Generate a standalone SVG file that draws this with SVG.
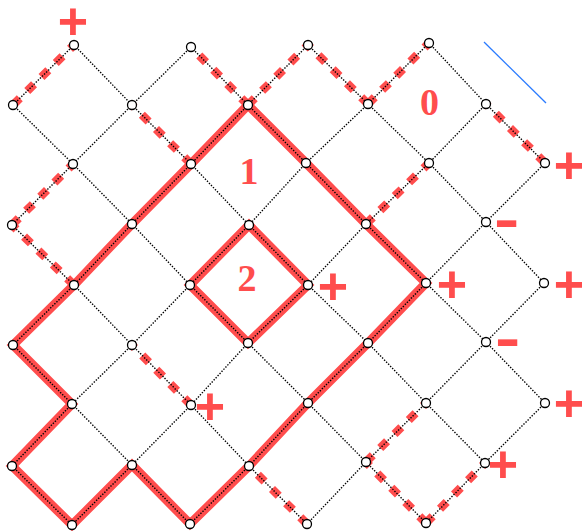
<svg xmlns="http://www.w3.org/2000/svg" width="582" height="531" viewBox="0 0 582 531">
<style>
.e{fill:none;stroke:#000;stroke-width:1.4;stroke-dasharray:1.4 1.5}
.thick{fill:none;stroke:#ff4d4d;stroke-width:9;stroke-linejoin:miter}
.dash{fill:none;stroke:#ff4d4d;stroke-width:8.5;stroke-dasharray:9.5 10.5}
.n{fill:#fff;stroke:#000;stroke-width:1.3}
.sg{font-family:"Liberation Sans",Arial,sans-serif;font-weight:bold;fill:#ff4d4d}
.num{font-family:"Liberation Serif","Times New Roman",serif;font-weight:bold;font-size:38px;fill:#ff4d4d;text-anchor:middle}
</style>
<rect width="582" height="531" fill="#fff"/>
<g id="red-paths">
<path class="thick" d="M248 105L191 164L132 224L74 285L13 345L72 404L12 466L72 525L132 465L190 524L249 466L308 403L368 343L426 283L366 224L306 163Z"/>
<path class="thick" d="M249 225L308 285L248 343L190 285Z"/>
<path class="dash" d="M13 105L74 45"/>
<path class="dash" d="M191 164L132 105"/>
<path class="dash" d="M248 105L191 47"/>
<path class="dash" d="M248 105L308 45"/>
<path class="dash" d="M368 104L308 45"/>
<path class="dash" d="M368 104L429 43"/>
<path class="dash" d="M545 163L486 104"/>
<path class="dash" d="M366 224L429 163"/>
<path class="dash" d="M12 225L73 164"/>
<path class="dash" d="M74 285L12 225"/>
<path class="dash" d="M191 405L132 345"/>
<path class="dash" d="M307 524L249 466"/>
<path class="dash" d="M366 462L426 403"/>
<path class="dash" d="M426 523L366 462"/>
<path class="dash" d="M426 523L485 463"/>
</g>
<g id="connectors">
<path class="e" d="M74 45L13 105M74 45L132 105M191 47L132 105M191 47L248 105M308 45L248 105M308 45L368 104M429 43L368 104M429 43L486 104"/>
<path class="e" d="M13 105L73 164M132 105L73 164M132 105L191 164M248 105L191 164M248 105L306 163M368 104L306 163M368 104L429 163M486 104L429 163M486 104L545 163"/>
<path class="e" d="M73 164L12 225M73 164L132 224M191 164L132 224M191 164L249 225M306 163L249 225M306 163L366 224M429 163L366 224M429 163L486 222M545 163L486 222"/>
<path class="e" d="M12 225L74 285M132 224L74 285M132 224L190 285M249 225L190 285M249 225L308 285M366 224L308 285M366 224L426 283M486 222L426 283M486 222L544 283"/>
<path class="e" d="M74 285L13 345M74 285L132 345M190 285L132 345M190 285L248 343M308 285L248 343M308 285L368 343M426 283L368 343M426 283L486 342M544 283L486 342"/>
<path class="e" d="M13 345L72 404M132 345L72 404M132 345L191 405M248 343L191 405M248 343L308 403M368 343L308 403M368 343L426 403M486 342L426 403M486 342L545 403"/>
<path class="e" d="M72 404L12 466M72 404L132 465M191 405L132 465M191 405L249 466M308 403L249 466M308 403L366 462M426 403L366 462M426 403L485 463M545 403L485 463"/>
<path class="e" d="M12 466L72 525M132 465L72 525M132 465L190 524M249 466L190 524M249 466L307 524M366 462L307 524M366 462L426 523M485 463L426 523"/>
<line x1="484" y1="42" x2="546" y2="103" stroke="#2a7bff" stroke-width="1.3"/>
</g>
<g id="nodes">
<g id="n0-1"><circle class="n" cx="74" cy="45" r="4.5"/></g>
<g id="n0-3"><circle class="n" cx="191" cy="47" r="4.5"/></g>
<g id="n0-5"><circle class="n" cx="308" cy="45" r="4.5"/></g>
<g id="n0-7"><circle class="n" cx="429" cy="43" r="4.5"/></g>
<g id="n1-0"><circle class="n" cx="13" cy="105" r="4.5"/></g>
<g id="n1-2"><circle class="n" cx="132" cy="105" r="4.5"/></g>
<g id="n1-4"><circle class="n" cx="248" cy="105" r="4.5"/></g>
<g id="n1-6"><circle class="n" cx="368" cy="104" r="4.5"/></g>
<g id="n1-8"><circle class="n" cx="486" cy="104" r="4.5"/></g>
<g id="n2-1"><circle class="n" cx="73" cy="164" r="4.5"/></g>
<g id="n2-3"><circle class="n" cx="191" cy="164" r="4.5"/></g>
<g id="n2-5"><circle class="n" cx="306" cy="163" r="4.5"/></g>
<g id="n2-7"><circle class="n" cx="429" cy="163" r="4.5"/></g>
<g id="n2-9"><circle class="n" cx="545" cy="163" r="4.5"/></g>
<g id="n3-0"><circle class="n" cx="12" cy="225" r="4.5"/></g>
<g id="n3-2"><circle class="n" cx="132" cy="224" r="4.5"/></g>
<g id="n3-4"><circle class="n" cx="249" cy="225" r="4.5"/></g>
<g id="n3-6"><circle class="n" cx="366" cy="224" r="4.5"/></g>
<g id="n3-8"><circle class="n" cx="486" cy="222" r="4.5"/></g>
<g id="n4-1"><circle class="n" cx="74" cy="285" r="4.5"/></g>
<g id="n4-3"><circle class="n" cx="190" cy="285" r="4.5"/></g>
<g id="n4-5"><circle class="n" cx="308" cy="285" r="4.5"/></g>
<g id="n4-7"><circle class="n" cx="426" cy="283" r="4.5"/></g>
<g id="n4-9"><circle class="n" cx="544" cy="283" r="4.5"/></g>
<g id="n5-0"><circle class="n" cx="13" cy="345" r="4.5"/></g>
<g id="n5-2"><circle class="n" cx="132" cy="345" r="4.5"/></g>
<g id="n5-4"><circle class="n" cx="248" cy="343" r="4.5"/></g>
<g id="n5-6"><circle class="n" cx="368" cy="343" r="4.5"/></g>
<g id="n5-8"><circle class="n" cx="486" cy="342" r="4.5"/></g>
<g id="n6-1"><circle class="n" cx="72" cy="404" r="4.5"/></g>
<g id="n6-3"><circle class="n" cx="191" cy="405" r="4.5"/></g>
<g id="n6-5"><circle class="n" cx="308" cy="403" r="4.5"/></g>
<g id="n6-7"><circle class="n" cx="426" cy="403" r="4.5"/></g>
<g id="n6-9"><circle class="n" cx="545" cy="403" r="4.5"/></g>
<g id="n7-0"><circle class="n" cx="12" cy="466" r="4.5"/></g>
<g id="n7-2"><circle class="n" cx="132" cy="465" r="4.5"/></g>
<g id="n7-4"><circle class="n" cx="249" cy="466" r="4.5"/></g>
<g id="n7-6"><circle class="n" cx="366" cy="462" r="4.5"/></g>
<g id="n7-8"><circle class="n" cx="485" cy="463" r="4.5"/></g>
<g id="n8-1"><circle class="n" cx="72" cy="525" r="4.5"/></g>
<g id="n8-3"><circle class="n" cx="190" cy="524" r="4.5"/></g>
<g id="n8-5"><circle class="n" cx="307" cy="524" r="4.5"/></g>
<g id="n8-7"><circle class="n" cx="426" cy="523" r="4.5"/></g>
</g>
<g id="labels">
<text class="num" x="429.5" y="115">0</text>
<text class="num" x="249" y="184">1</text>
<text class="num" x="247" y="291">2</text>
<g class="sg" font-size="52" text-anchor="middle">
<text x="73" y="38.5">+</text>
<text x="569" y="182.5">+</text>
<text x="452" y="301.5">+</text>
<text x="569" y="301.5">+</text>
<text x="333" y="303.5">+</text>
<text x="210" y="423.5">+</text>
<text x="569" y="420.5">+</text>
<text x="503" y="481.5">+</text>
</g>
<g class="sg" font-size="56">
<text x="494" y="237.6" textLength="25.3" lengthAdjust="spacingAndGlyphs">-</text>
<text x="495" y="356.6" textLength="25.3" lengthAdjust="spacingAndGlyphs">-</text>
</g>
</g>
</svg>
